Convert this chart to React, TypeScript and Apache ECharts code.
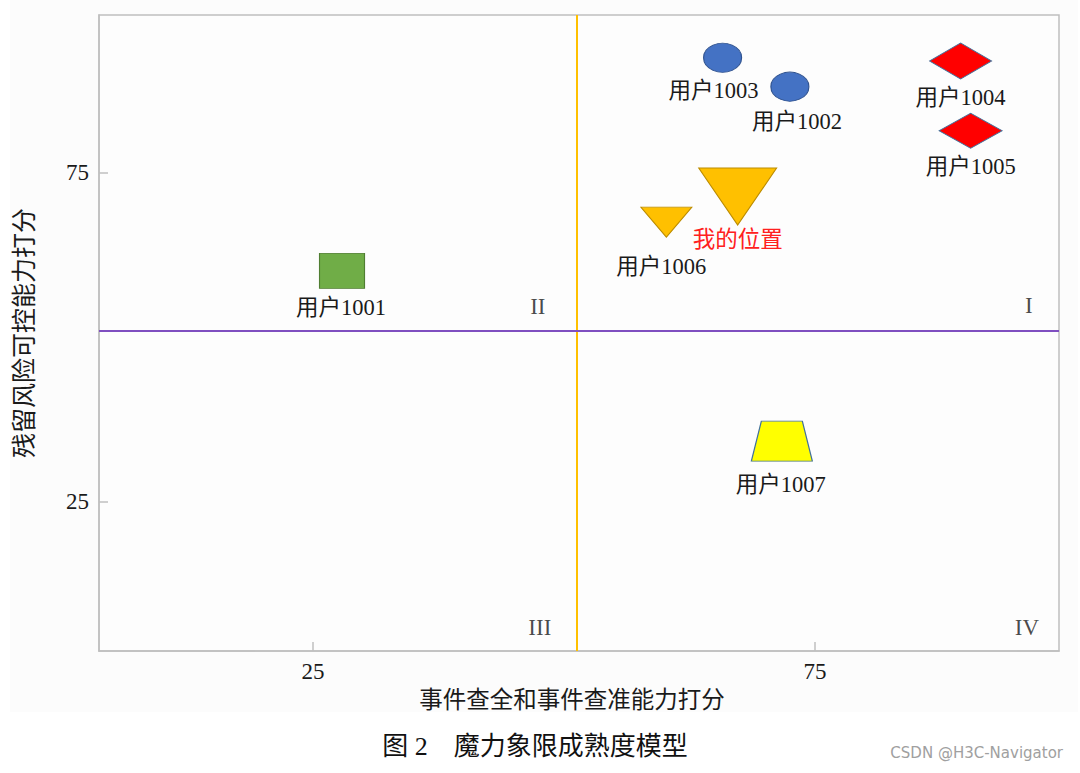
import React, { useEffect, useRef } from "react";
import * as echarts from "echarts";

// ---- data ----
const users = ["用户1001", "用户1002", "用户1003", "用户1004", "用户1005", "用户1006", "用户1007", "我的位置"];
const xScores = [27.9, 72.5, 65.8, 89.5, 90.5, 60.2, 71.7, 67.3];
const yScores = [60.1, 88.1, 92.5, 92.0, 81.4, 67.5, 34.2, 71.4];
const xTickValues = [25, 75];
const yTickValues = [25, 75];
const quadrantNames = ["I", "II", "III", "IV"];
const quadrantX = [96.3, 47.4, 47.6, 96.1];
const quadrantY = [54.8, 54.7, 5.8, 5.9];
const splitX = 51.3;
const splitY = 51.0;
const xName = "事件查全和事件查准能力打分";
const yName = "残留风险可控能力打分";
const caption = "图 2\u3000魔力象限成熟度模型";
const watermark = "CSDN @H3C-Navigator";

// ---- styles (not data) ----
const SERIF = '"Liberation Serif", "Times New Roman", "Noto Sans CJK SC", serif';
const markStyles: Record<string, any> = {
  "用户1001": { symbol: "rect", size: [45, 35], color: "#70ad47", border: "#507e32", offset: [-1, 37], text: "#1a1a1a" },
  "用户1002": { symbol: "circle", size: [38, 29], color: "#4472c4", border: "#2f528f", offset: [7, 35], text: "#1a1a1a" },
  "用户1003": { symbol: "circle", size: [38, 29], color: "#4472c4", border: "#2f528f", offset: [-9, 33], text: "#1a1a1a" },
  "用户1004": { symbol: "diamond", size: [62, 36], color: "#ff0000", border: "#41719c", offset: [0, 36], text: "#1a1a1a" },
  "用户1005": { symbol: "diamond", size: [63, 35], color: "#ff0000", border: "#41719c", offset: [0, 36], text: "#1a1a1a" },
  "用户1006": { symbol: "path://M0,0L10,0L5,6Z", size: [51, 30], color: "#ffc000", border: "#bc8c00", offset: [-5, 44], text: "#1a1a1a" },
  "用户1007": { symbol: "path://M10,0L51,0L61,40L0,40Z", size: [61, 40], color: "#ffff00", border: "#41719c", offset: [-1, 43], text: "#1a1a1a" },
  "我的位置": { symbol: "path://M0,0L10,0L5,7.3Z", size: [78, 57], color: "#ffc000", border: "#bc8c00", offset: [0, 43], text: "#ff2020" },
};

export default function App() {
  const ref = useRef<HTMLDivElement>(null);
  useEffect(() => {
    if (!ref.current) return;
    const chart = echarts.init(ref.current, undefined, { renderer: "svg" });

    const pointSeries = users.map((name, i) => {
      const s = markStyles[name];
      return {
        type: "scatter",
        name,
        symbol: s.symbol,
        symbolSize: s.size,
        z: 5,
        itemStyle: { color: s.color, borderColor: s.border, borderWidth: 1, opacity: 1 },
        label: {
          show: true,
          position: "inside",
          offset: s.offset,
          formatter: name,
          fontFamily: SERIF,
          fontSize: 22.5,
          color: s.text,
        },
        emphasis: { disabled: true },
        data: [[xScores[i], yScores[i]]],
      };
    });

    const quadrantSeries = {
      type: "scatter",
      name: "quadrants",
      symbolSize: 0,
      silent: true,
      label: {
        show: true,
        position: "inside",
        formatter: (p: any) => quadrantNames[p.dataIndex],
        fontFamily: SERIF,
        fontSize: 23,
        color: "#1a1a1a",
      },
      data: quadrantNames.map((_, i) => [quadrantX[i], quadrantY[i]]),
      markLine: {
        silent: true,
        symbol: "none",
        label: { show: false },
        data: [
          { xAxis: splitX, lineStyle: { color: "#ffc000", width: 2, type: "solid" } },
          { yAxis: splitY, lineStyle: { color: "#7f4fc0", width: 2, type: "solid" } },
        ],
      },
    };

    chart.setOption({
      animation: false,
      backgroundColor: "#ffffff",
      grid: {
        left: 99,
        top: 15,
        right: 21,
        bottom: 122,
        show: true,
        borderColor: "#bfbfbf",
        borderWidth: 1.5,
        backgroundColor: "#fdfdfd",
      },
      graphic: [
        {
          type: "rect",
          z: -10,
          silent: true,
          shape: { x: 10, y: 0, width: 1068, height: 712 },
          style: { fill: "#fcfcfc" },
        },
        {
          type: "text",
          x: 535,
          y: 746,
          silent: true,
          style: {
            text: caption,
            fontFamily: SERIF,
            fontSize: 26,
            fill: "#111111",
            textAlign: "center",
            textVerticalAlign: "middle",
          },
        },
        {
          type: "text",
          x: 1063,
          y: 753,
          silent: true,
          style: {
            text: watermark,
            fontFamily: '"DejaVu Sans", sans-serif',
            fontSize: 15,
            fill: "#a0a0a0",
            textAlign: "right",
            textVerticalAlign: "middle",
          },
        },
      ],
      xAxis: {
        type: "value",
        min: 3.7,
        max: 99.3,
        name: xName,
        nameLocation: "middle",
        nameGap: 36,
        nameTextStyle: { fontFamily: SERIF, fontSize: 23.5, color: "#1a1a1a", padding: [0, 14, 0, 0] },
        axisLine: { show: true, lineStyle: { color: "#bfbfbf", width: 1.5 } },
        axisTick: { show: true, inside: true, length: 9, customValues: xTickValues, lineStyle: { color: "#bfbfbf", width: 1.5 } },
        axisLabel: { customValues: xTickValues, fontFamily: SERIF, fontSize: 23, color: "#1a1a1a", margin: 9 },
        splitLine: { show: false },
      },
      yAxis: {
        type: "value",
        min: 2.3,
        max: 99.0,
        name: yName,
        nameLocation: "middle",
        nameGap: 62,
        nameTextStyle: { fontFamily: SERIF, fontSize: 25, color: "#1a1a1a" },
        axisLine: { show: true, lineStyle: { color: "#bfbfbf", width: 1.5 } },
        axisTick: { show: true, inside: true, length: 9, customValues: yTickValues, lineStyle: { color: "#bfbfbf", width: 1.5 } },
        axisLabel: { customValues: yTickValues, fontFamily: SERIF, fontSize: 23, color: "#1a1a1a", margin: 10 },
        splitLine: { show: false },
      },
      series: [quadrantSeries, ...pointSeries],
    });
    return () => chart.dispose();
  }, []);
  return (
    <div
      ref={ref}
      style={{ position: "fixed", left: 0, top: 0, width: 1080, height: 773 }}
    />
  );
}
